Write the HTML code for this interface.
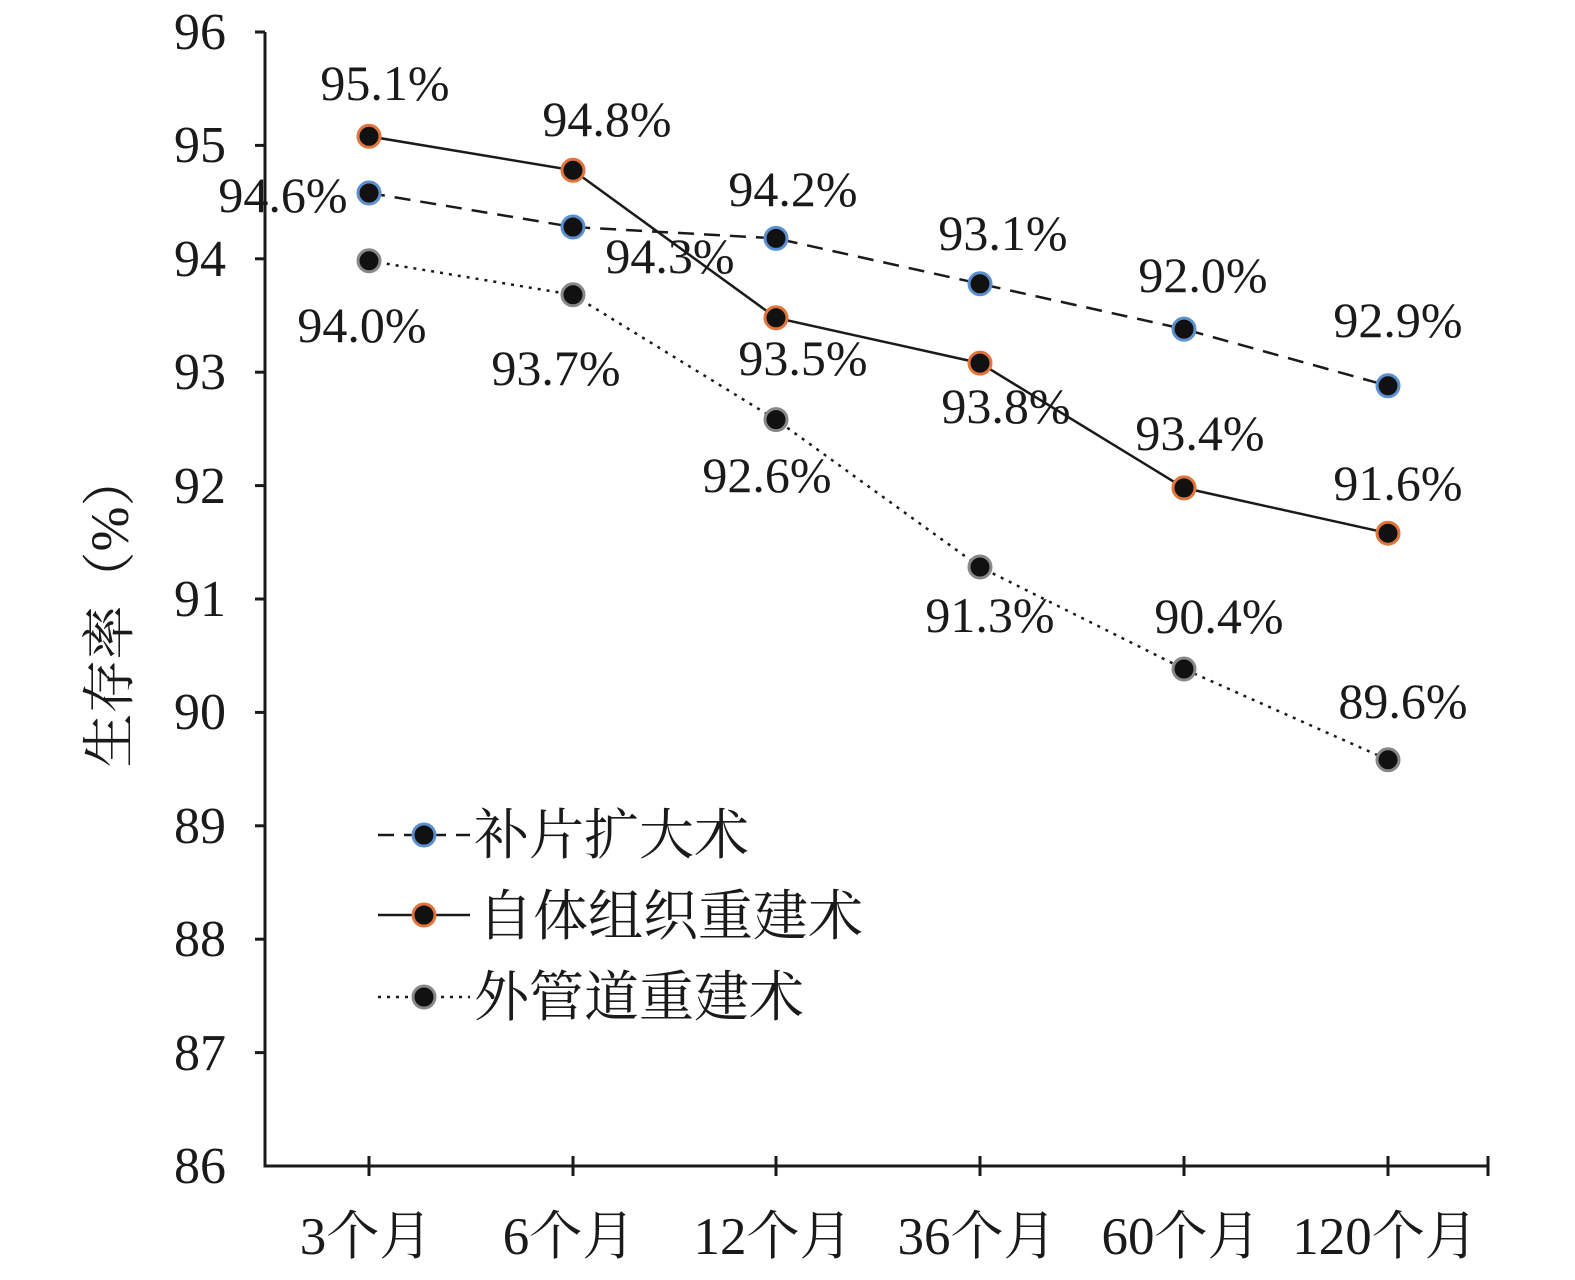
<!DOCTYPE html>
<html><head><meta charset="utf-8"><style>
html,body{margin:0;padding:0;background:#fff;}
svg{display:block}
text{font-family:"Liberation Serif","Noto Serif CJK SC",serif;fill:#1a1a1a}
</style></head><body>
<svg width="1575" height="1280" viewBox="0 0 1575 1280" xmlns="http://www.w3.org/2000/svg">
<g stroke="#1a1a1a" stroke-width="3" fill="none">
<line x1="265" y1="32" x2="265" y2="1167"/>
<line x1="263.5" y1="1166" x2="1489" y2="1166"/>
<line x1="255" y1="32" x2="265" y2="32"/>
<line x1="255" y1="145.4" x2="265" y2="145.4"/>
<line x1="255" y1="258.8" x2="265" y2="258.8"/>
<line x1="255" y1="372.2" x2="265" y2="372.2"/>
<line x1="255" y1="485.6" x2="265" y2="485.6"/>
<line x1="255" y1="599" x2="265" y2="599"/>
<line x1="255" y1="712.4" x2="265" y2="712.4"/>
<line x1="255" y1="825.8" x2="265" y2="825.8"/>
<line x1="255" y1="939.2" x2="265" y2="939.2"/>
<line x1="255" y1="1052.6" x2="265" y2="1052.6"/>
<line x1="369" y1="1156" x2="369" y2="1176"/>
<line x1="573" y1="1156" x2="573" y2="1176"/>
<line x1="776" y1="1156" x2="776" y2="1176"/>
<line x1="980" y1="1156" x2="980" y2="1176"/>
<line x1="1184" y1="1156" x2="1184" y2="1176"/>
<line x1="1388" y1="1156" x2="1388" y2="1176"/>
<line x1="1488" y1="1156" x2="1488" y2="1176"/>
</g>
<g font-size="52" text-anchor="end">
<text x="226" y="49">96</text><text x="226" y="162">95</text><text x="226" y="276">94</text>
<text x="226" y="389">93</text><text x="226" y="503">92</text><text x="226" y="616">91</text>
<text x="226" y="729">90</text><text x="226" y="843">89</text><text x="226" y="956">88</text>
<text x="226" y="1070">87</text><text x="226" y="1183">86</text>
</g>
<g font-size="53" text-anchor="middle">
<text x="366" y="1254">3个月</text><text x="569" y="1254">6个月</text><text x="773" y="1254">12个月</text>
<text x="977" y="1254">36个月</text><text x="1181" y="1254">60个月</text><text x="1385" y="1254">120个月</text>
</g>
<text font-size="54" text-anchor="middle" transform="translate(128,610) rotate(-90)">生存率（%）</text>
<polyline points="369,193.0 573,227.0 776,238.4 980,283.8 1184,329.1 1388,385.8" fill="none" stroke="#1a1a1a" stroke-width="2.5" stroke-dasharray="16,10"/>
<polyline points="369,136.3 573,170.3 776,317.8 980,363.1 1184,487.9 1388,533.2" fill="none" stroke="#1a1a1a" stroke-width="2.5"/>
<polyline points="369,260.8 573,294.8 776,419.6 980,567.0 1184,669.0 1388,759.8" fill="none" stroke="#1a1a1a" stroke-width="2.5" stroke-dasharray="3,6"/>
<g fill="#111" stroke-width="3">
<g stroke="#5b8fd0"><circle cx="369" cy="193" r="11"/><circle cx="573" cy="227" r="11"/><circle cx="776" cy="238.4" r="11"/><circle cx="980" cy="283.8" r="11"/><circle cx="1184" cy="329.1" r="11"/><circle cx="1388" cy="385.8" r="11"/></g>
<g stroke="#e0743a"><circle cx="369" cy="136.3" r="11"/><circle cx="573" cy="170.3" r="11"/><circle cx="776" cy="317.8" r="11"/><circle cx="980" cy="363.1" r="11"/><circle cx="1184" cy="487.9" r="11"/><circle cx="1388" cy="533.2" r="11"/></g>
<g stroke="#888"><circle cx="369" cy="260.8" r="11"/><circle cx="573" cy="294.8" r="11"/><circle cx="776" cy="419.6" r="11"/><circle cx="980" cy="567" r="11"/><circle cx="1184" cy="669" r="11"/><circle cx="1388" cy="759.8" r="11"/></g>
</g>
<g font-size="50" text-anchor="middle">
<text x="385" y="100">95.1%</text><text x="607" y="136">94.8%</text><text x="283" y="212">94.6%</text>
<text x="793" y="206">94.2%</text><text x="670" y="273">94.3%</text><text x="1003" y="250">93.1%</text>
<text x="1203" y="292">92.0%</text><text x="1398" y="337">92.9%</text><text x="362" y="342">94.0%</text>
<text x="556" y="385">93.7%</text><text x="803" y="375">93.5%</text><text x="1006" y="423">93.8%</text>
<text x="1200" y="450">93.4%</text><text x="767" y="492">92.6%</text><text x="1398" y="500">91.6%</text>
<text x="990" y="632">91.3%</text><text x="1219" y="633">90.4%</text><text x="1403" y="718">89.6%</text>
</g>
<line x1="378" y1="835" x2="470" y2="835" stroke="#1a1a1a" stroke-width="2.5" stroke-dasharray="16,10"/>
<circle cx="424" cy="835" r="11" fill="#111" stroke="#5b8fd0" stroke-width="3"/>
<line x1="378" y1="915" x2="470" y2="915" stroke="#1a1a1a" stroke-width="2.5"/>
<circle cx="424" cy="915" r="11" fill="#111" stroke="#e0743a" stroke-width="3"/>
<line x1="378" y1="997" x2="470" y2="997" stroke="#1a1a1a" stroke-width="2.5" stroke-dasharray="3,6"/>
<circle cx="424" cy="997" r="11" fill="#111" stroke="#888" stroke-width="3"/>
<g font-size="55">
<text x="474" y="854">补片扩大术</text>
<text x="478" y="935">自体组织重建术</text>
<text x="474" y="1016">外管道重建术</text>
</g>
</svg>
</body></html>
